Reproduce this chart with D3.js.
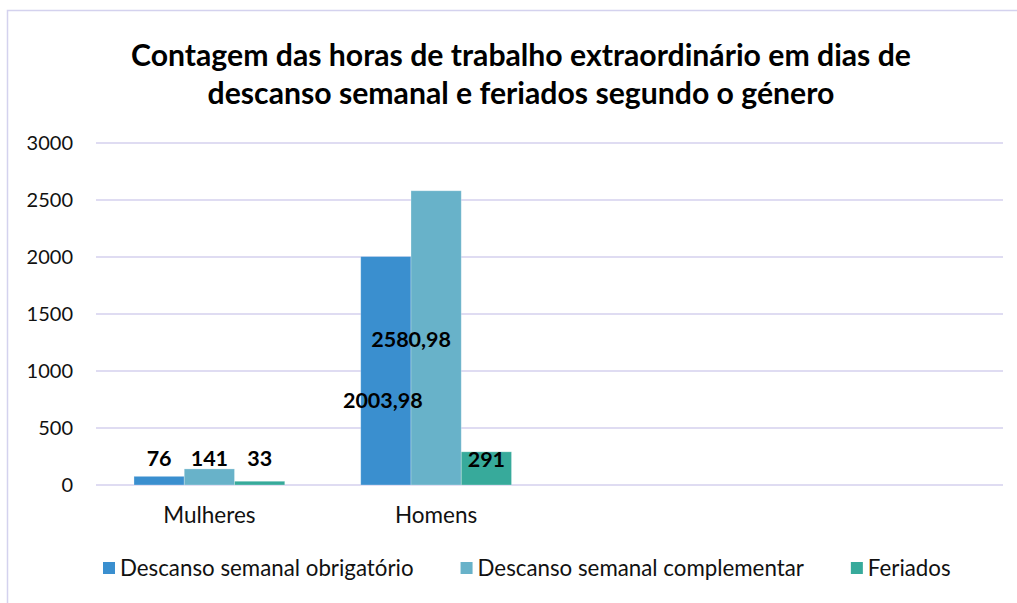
<!DOCTYPE html>
<html>
  <head>
    <meta charset="utf-8" />
    <title>Horas de trabalho extraordinário</title>
    <script src="https://d3js.org/d3.v7.min.js"></script>
    <style>
      body { margin: 0; background: #fff; }
      svg { display: block; font-family: Lato, "Open Sans", sans-serif; }
    </style>
  </head>
  <body>
    <svg width="1017" height="603" id="chart"></svg>
    <script>
      // data
      const categories = ["Mulheres", "Homens", " ", "  "];
      const series = ["Descanso semanal obrigatório", "Descanso semanal complementar", "Feriados"];
      const obrigatorio = [76, 2003.98];
      const complementar = [141, 2580.98];
      const feriados = [33, 291];
      const yTicks = [0, 500, 1000, 1500, 2000, 2500, 3000];
      const colors = ["#3a8fcf", "#68b2c9", "#37aa9b"];

      const values = [obrigatorio, complementar, feriados];
      const fmt = v => String(v).replace(".", ",");

      const svg = d3.select("#chart");
      const plotLeft = 96, plotRight = 1003, plotTop = 143, plotBottom = 485;

      // chart border
      svg.append("path")
        .attr("d", "M7.5,603 V10.5 H1017")
        .attr("fill", "none")
        .attr("stroke", "#d4d2ee")
        .attr("stroke-width", 1.5);

      // title
      const title = svg.append("text")
        .attr("text-anchor", "middle")
        .attr("font-weight", "bold")
        .attr("font-size", 30.2)
        .attr("fill", "#000");
      title.append("tspan").attr("x", 521).attr("y", 66)
        .text("Contagem das horas de trabalho extraordinário em dias de");
      title.append("tspan").attr("x", 521).attr("y", 104)
        .text("descanso semanal e feriados segundo o género");

      const y = d3.scaleLinear().domain([0, 3000]).range([plotBottom, plotTop]);
      const x0 = d3.scaleBand().domain(categories).range([plotLeft, plotRight])
        .paddingInner(0.335).paddingOuter(0.1675);
      const x1 = d3.scaleBand().domain(d3.range(series.length)).range([0, x0.bandwidth()]);

      // gridlines
      svg.append("g").selectAll("line").data(yTicks).join("line")
        .attr("x1", plotLeft).attr("x2", plotRight)
        .attr("y1", d => y(d)).attr("y2", d => y(d))
        .attr("stroke", "#d4d0ee").attr("stroke-width", 1.5);

      // y axis labels
      const yAxis = svg.append("g")
        .attr("transform", `translate(${plotLeft},0)`)
        .call(d3.axisLeft(y).tickValues(yTicks).tickFormat(d3.format("d")).tickSize(0).tickPadding(23));
      yAxis.select(".domain").remove();
      yAxis.selectAll("text")
        .attr("font-family", "Lato, sans-serif")
        .attr("font-size", 20)
        .attr("fill", "#111");

      // x axis labels
      const xAxis = svg.append("g")
        .attr("transform", `translate(0,${plotBottom})`)
        .call(d3.axisBottom(x0).tickSize(0).tickPadding(22));
      xAxis.select(".domain").remove();
      xAxis.selectAll("text")
        .attr("font-family", "Lato, sans-serif")
        .attr("font-size", 22.5)
        .attr("fill", "#111");

      // bars
      const cells = [];
      values.forEach((arr, s) => arr.forEach((v, c) => cells.push({ s, c, v })));

      svg.append("g").selectAll("rect").data(cells).join("rect")
        .attr("x", d => x0(categories[d.c]) + x1(d.s))
        .attr("width", x1.bandwidth())
        .attr("y", d => y(d.v))
        .attr("height", d => y(0) - y(d.v))
        .attr("fill", d => colors[d.s])
        .attr("stroke", "#ffffff")
        .attr("stroke-opacity", 0.35)
        .attr("stroke-width", 0.8);

      // data labels (placement as in the original chart)
      const labelAt = d => {
        if (d.c === 0) return { dx: 0, yv: 165 };
        if (d.s === 0) return { dx: -3, yv: 675 };
        if (d.s === 1) return { dx: -25, yv: 1210 };
        return { dx: 0, yv: 158 };
      };
      svg.append("g").selectAll("text").data(cells).join("text")
        .attr("x", d => x0(categories[d.c]) + x1(d.s) + x1.bandwidth() / 2 + labelAt(d).dx)
        .attr("y", d => y(labelAt(d).yv))
        .attr("text-anchor", "middle")
        .attr("font-weight", "bold")
        .attr("font-size", 21.5)
        .attr("fill", "#000")
        .text(d => fmt(d.v));

      // legend
      const legend = svg.append("g").attr("transform", "translate(103,568)");
      let lx = 0;
      series.forEach((name, i) => {
        const g = legend.append("g").attr("transform", `translate(${lx},0)`);
        g.append("rect").attr("x", 0).attr("y", -6).attr("width", 12).attr("height", 12)
          .attr("fill", colors[i]);
        const t = g.append("text").attr("x", 17).attr("y", 7.5)
          .attr("font-size", 22.3).attr("fill", "#111").text(name);
        lx += 17 + t.node().getComputedTextLength() + 47;
      });
    </script>
  </body>
</html>
